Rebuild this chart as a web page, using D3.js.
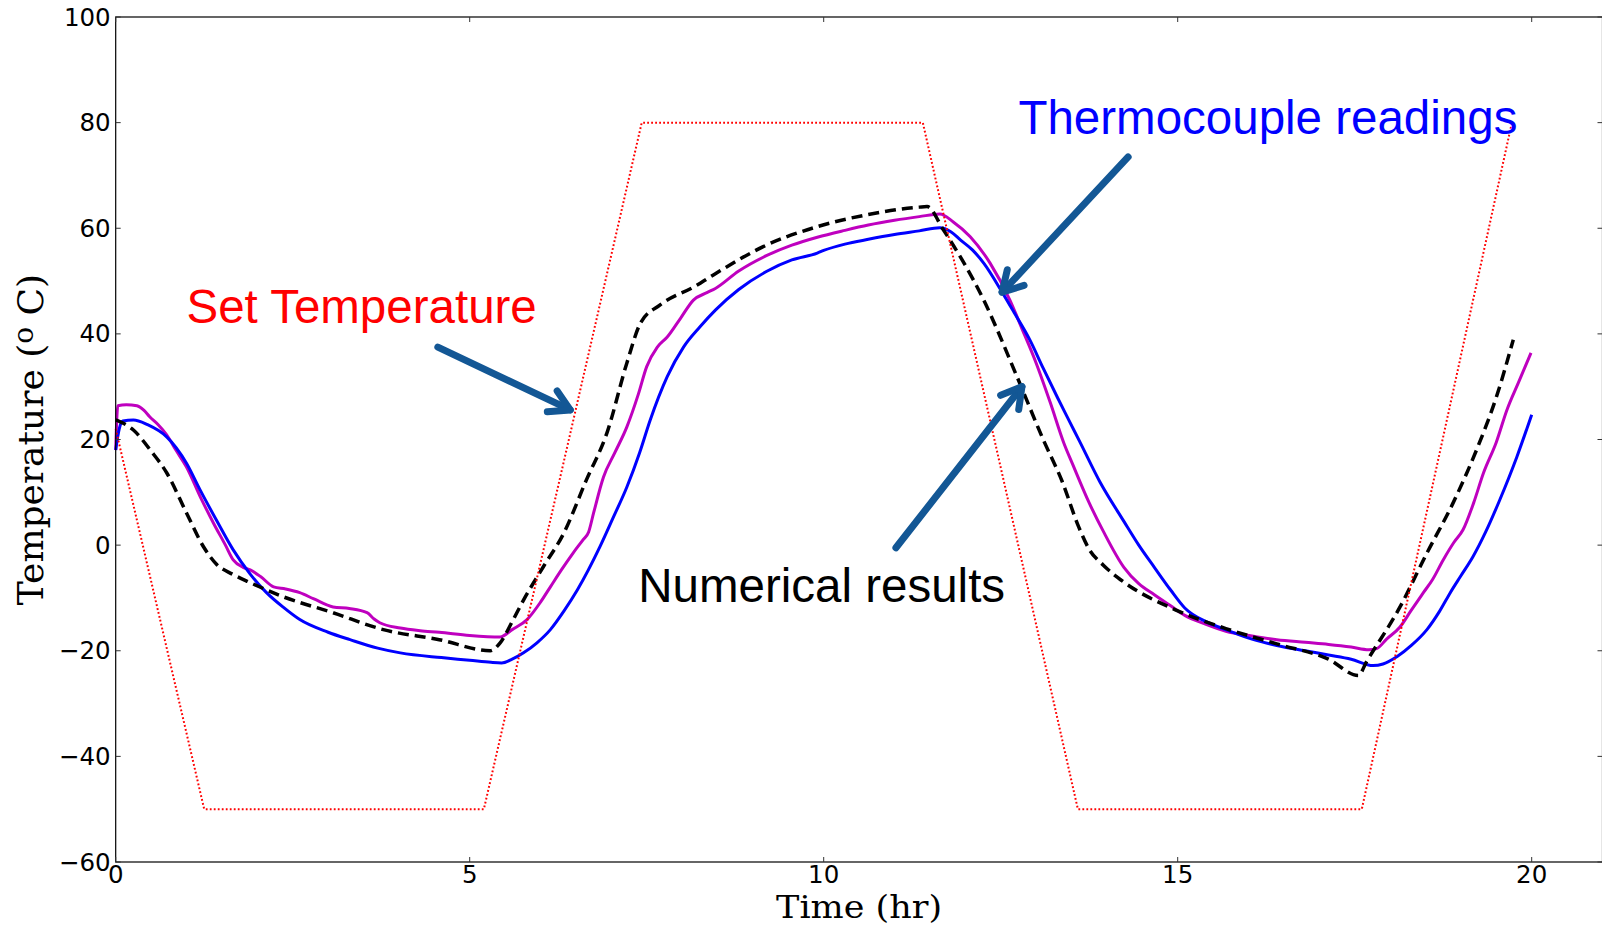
<!DOCTYPE html>
<html>
<head>
<meta charset="utf-8">
<script src="https://cdn.jsdelivr.net/npm/d3@7"></script>
<style>
  html, body { margin: 0; padding: 0; background: #fff; }
  svg { display: block; }
</style>
</head>
<body>
<svg id="chart" width="1602" height="926"></svg>
<script>
// ---------------- data ----------------
const xTicks = [0, 5, 10, 15, 20];
const yTicks = [-60, -40, -20, 0, 20, 40, 60, 80, 100];

// Set temperature (red dotted)
const setTime = [0, 1.25, 5.2, 7.43, 11.4, 13.59, 17.6, 19.72];
const setTemp = [22, -50, -50, 80, 80, -50, -50, 80];

// Thermocouple reading 1 (blue)
const blueTime = [0,0.05,0.1,0.25,0.45,0.72,1.0,1.19,1.42,1.66,1.9,2.13,2.37,2.6,3.0,3.31,3.7,4.02,4.6,5.0,5.3,5.45,5.6,5.76,5.95,6.14,6.33,6.52,6.84,7.02,7.22,7.4,7.55,7.79,8.02,8.25,8.47,8.8,9.19,9.55,9.91,10.0,10.3,10.63,11.0,11.35,11.64,11.8,11.93,12.1,12.26,12.52,12.7,12.91,13.1,13.3,13.45,13.62,13.9,14.24,14.45,14.67,14.9,15.1,15.4,15.7,16.05,16.4,16.8,17.13,17.45,17.76,17.9,18.1,18.3,18.52,18.7,18.85,19.0,19.17,19.35,19.55,19.79,20.0];
const blueTemp = [18,22,23.5,23.7,22.8,20.5,15.5,10.5,4.8,-0.9,-5.5,-9.0,-11.8,-14.1,-16.5,-17.9,-19.5,-20.4,-21.3,-21.8,-22.2,-22.3,-21.6,-20.4,-18.5,-16,-12.5,-8.5,-0.3,5,11,17.5,23.7,31.9,37.5,41.3,44.5,48.4,51.8,54,55.3,55.8,57,57.9,58.8,59.5,60.1,59.3,57.8,55.9,53.4,47.9,43.8,38.9,33.5,28,24,19.5,12,4.5,0,-4.2,-8.5,-11.9,-14.5,-16.1,-17.8,-19,-20,-20.8,-21.6,-22.8,-22.5,-21.1,-19,-16,-12.5,-9,-5.8,-2.2,2.5,8.6,16.7,24.7];

// Thermocouple reading 2 (magenta)
const magTime = [0,0.03,0.15,0.3,0.4,0.48,0.6,0.72,0.85,1.0,1.2,1.38,1.55,1.66,1.8,1.9,2.05,2.23,2.4,2.6,2.8,3.07,3.3,3.55,3.65,3.73,4.02,4.3,4.57,5.0,5.43,5.6,5.81,6.0,6.14,6.3,6.46,6.6,6.68,6.75,6.89,7.05,7.22,7.38,7.5,7.65,7.79,7.98,8.16,8.35,8.47,8.8,9.19,9.55,9.91,10.3,10.63,11.0,11.35,11.64,11.83,12.07,12.35,12.63,12.8,13.0,13.2,13.39,13.52,13.75,13.95,14.24,14.45,14.67,14.9,15.1,15.4,15.68,16.05,16.4,16.8,17.13,17.45,17.7,17.81,17.95,18.14,18.3,18.47,18.6,18.75,18.9,19.03,19.18,19.32,19.5,19.65,19.82,19.99];
const magTemp = [18,26.4,26.6,26.4,25.5,24.3,22.8,20.9,18,14.8,9,4.2,0,-2.8,-4.2,-4.7,-6,-7.9,-8.3,-9,-10.2,-11.7,-12,-12.8,-14,-14.7,-15.7,-16.2,-16.5,-17.1,-17.4,-16,-14.1,-10.8,-7.9,-4.6,-1.5,1,2.5,6.1,12.9,17.5,22.4,28.5,33.8,37.5,39.4,43,46.4,47.8,48.6,51.9,54.8,56.8,58.3,59.6,60.6,61.5,62.2,62.7,61.2,58.4,53.4,46.4,41,34.5,27,19.4,15.2,8,2.6,-4.2,-7.3,-9.4,-11.5,-13.3,-15,-16.3,-17.2,-17.9,-18.4,-18.8,-19.3,-19.8,-19.6,-17.8,-15.5,-12.3,-9,-6.5,-2.8,0.5,2.9,8,13.7,19.5,25.6,31,36.4];

// Numerical results (black dashed)
const numTime = [0,0.25,0.5,0.72,1.0,1.24,1.43,1.65,1.9,2.37,3.07,3.78,4.57,5.29,5.43,5.6,5.76,6.04,6.33,6.65,6.94,7.22,7.41,7.69,8.18,8.47,9.19,9.91,10.63,11.35,11.46,11.69,12.26,12.73,13.1,13.37,13.6,13.75,13.95,14.24,14.96,15.68,16.4,17.13,17.55,17.67,18.14,18.52,18.89,19.22,19.5,19.74];
const numTemp = [23.7,21.8,17.8,13.7,6.1,-0.3,-3.7,-5.5,-7.1,-9.8,-12.8,-16,-17.9,-20,-18.5,-14.5,-10.4,-4.1,2.3,12.4,21.3,34.5,42,45.5,49,51.4,56.8,60.3,62.6,64,64.1,59.7,46.4,31.9,20,12,3.5,-0.8,-3.8,-7,-12.2,-15.8,-18.7,-21.6,-24.7,-22,-11.7,-1.5,8,18,28,38.9];

// Annotations (data coordinates)
const labelTexts  = ["Set Temperature", "Thermocouple readings", "Numerical results"];
const labelColors = ["#ff0000", "#0000ff", "#000000"];
const labelTime   = [1.0, 12.75, 7.38];
const labelTemp   = [42.1, 77.9, -10.7];

const arrowFromTime = [4.55, 14.3, 11.02];
const arrowFromTemp = [37.5, 73.5, -0.5];
const arrowToTime   = [6.42, 12.52, 12.8];
const arrowToTemp   = [25.6, 47.9, 30.0];

// ---------------- chart ----------------
const svg = d3.select("#chart");
const pLeft = 115.7, pRight = 1602.5, pTop = 17, pBottom = 862;

const x = d3.scaleLinear().domain([0, 21]).range([pLeft, pRight]);
const y = d3.scaleLinear().domain([-60, 100]).range([pBottom, pTop]);

const zip = (a, b) => a.map((v, i) => [v, b[i]]);
const line = d3.line().x(d => x(d[0])).y(d => y(d[1]));
const smooth = d3.line().x(d => x(d[0])).y(d => y(d[1])).curve(d3.curveMonotoneX);

const plot = svg.append("g");

plot.append("path").datum(zip(magTime, magTemp))
  .attr("d", smooth).attr("fill", "none")
  .attr("stroke", "#bf00bf").attr("stroke-width", 3).attr("stroke-linejoin", "round");

plot.append("path").datum(zip(blueTime, blueTemp))
  .attr("d", smooth).attr("fill", "none")
  .attr("stroke", "#0000ff").attr("stroke-width", 3).attr("stroke-linejoin", "round");

plot.append("path").datum(zip(numTime, numTemp))
  .attr("d", smooth).attr("fill", "none")
  .attr("stroke", "#000").attr("stroke-width", 3.5)
  .attr("stroke-dasharray", "11,6");

plot.append("path").datum(zip(setTime, setTemp))
  .attr("d", line).attr("fill", "none")
  .attr("stroke", "#ff0000").attr("stroke-width", 2)
  .attr("stroke-dasharray", "1.8,2.2");

// frame
svg.append("rect")
  .attr("x", pLeft).attr("y", pTop)
  .attr("width", pRight - pLeft).attr("height", pBottom - pTop)
  .attr("fill", "none").attr("stroke", "#000").attr("stroke-width", 1.2);

// ticks (inward, all four sides)
const tickLen = 5;
const tg = svg.append("g").attr("stroke", "#333").attr("stroke-width", 1);
xTicks.forEach(t => {
  tg.append("line").attr("x1", x(t)).attr("x2", x(t)).attr("y1", pBottom).attr("y2", pBottom - tickLen);
  tg.append("line").attr("x1", x(t)).attr("x2", x(t)).attr("y1", pTop).attr("y2", pTop + tickLen);
});
yTicks.forEach(v => {
  tg.append("line").attr("x1", pLeft).attr("x2", pLeft + tickLen).attr("y1", y(v)).attr("y2", y(v));
  tg.append("line").attr("x1", pRight).attr("x2", pRight - tickLen).attr("y1", y(v)).attr("y2", y(v));
});

const fmt = v => (v < 0 ? "\u2212" + Math.abs(v) : String(v));

svg.append("g").selectAll("text").data(xTicks).join("text")
  .attr("x", d => x(d)).attr("y", 882.5)
  .attr("text-anchor", "middle")
  .attr("font-family", "DejaVu Sans").attr("font-size", 24.5)
  .text(d => fmt(d));

svg.append("g").selectAll("text").data(yTicks).join("text")
  .attr("x", pLeft - 5).attr("y", d => y(d))
  .attr("text-anchor", "end").attr("dominant-baseline", "central")
  .attr("font-family", "DejaVu Sans").attr("font-size", 24.5)
  .text(d => fmt(d));

// axis labels
svg.append("text")
  .attr("x", (pLeft + pRight) / 2).attr("y", 918)
  .attr("text-anchor", "middle")
  .attr("font-family", "DejaVu Serif").attr("font-size", 32.5)
  .attr("textLength", 166).attr("lengthAdjust", "spacingAndGlyphs")
  .text("Time (hr)");

const yl = svg.append("text")
  .attr("transform", `translate(43,${(pTop + pBottom) / 2}) rotate(-90)`)
  .attr("text-anchor", "middle")
  .attr("font-family", "DejaVu Serif").attr("font-size", 36);
yl.append("tspan").text("Temperature (");
yl.append("tspan").attr("font-size", 28).attr("dy", -10).text("o");
yl.append("tspan").attr("dy", 10).text(" C)");

// annotation texts
svg.append("g").selectAll("text").data(labelTexts).join("text")
  .attr("x", (d, i) => x(labelTime[i])).attr("y", (d, i) => y(labelTemp[i]))
  .attr("fill", (d, i) => labelColors[i])
  .attr("font-family", "Liberation Sans, Arial, sans-serif").attr("font-size", 47.5)
  .text(d => d);

// arrows
const ag = svg.append("g").attr("stroke", "#135795").attr("stroke-width", 7)
  .attr("fill", "none").attr("stroke-linecap", "round").attr("stroke-linejoin", "round");
arrowFromTime.forEach((_, i) => {
  const x0 = x(arrowFromTime[i]), y0 = y(arrowFromTemp[i]);
  const x1 = x(arrowToTime[i]), y1 = y(arrowToTemp[i]);
  const ang = Math.atan2(y0 - y1, x0 - x1);
  const L = 23, a = Math.PI / 6;
  ag.append("line").attr("x1", x0).attr("y1", y0).attr("x2", x1).attr("y2", y1);
  ag.append("polyline").attr("points", [
    [x1 + L * Math.cos(ang + a), y1 + L * Math.sin(ang + a)],
    [x1, y1],
    [x1 + L * Math.cos(ang - a), y1 + L * Math.sin(ang - a)]
  ].map(p => p.join(",")).join(" "));
});
</script>
</body>
</html>
